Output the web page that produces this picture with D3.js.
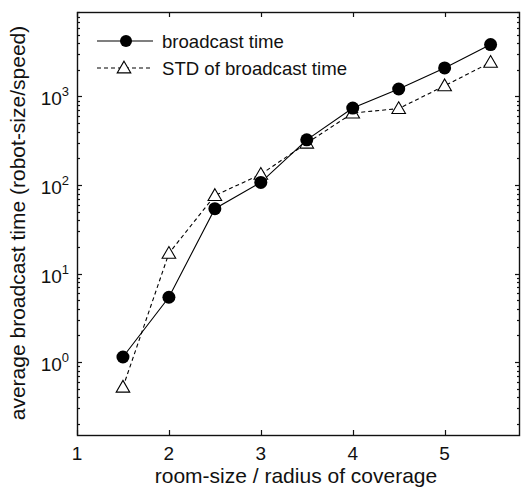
<!DOCTYPE html>
<html>
<head>
<meta charset="utf-8">
<script src="https://cdn.jsdelivr.net/npm/d3@7"></script>
<style>
  body { margin: 0; background: #fff; }
  text { font-family: "Liberation Sans", Arial, sans-serif; fill: #111; }
</style>
</head>
<body>
<div id="chart"></div>
<script>
// data
const xValues = [1.5, 2, 2.5, 3, 3.5, 4, 4.5, 5, 5.5];
const broadcastTime = [1.14, 5.4, 54, 107, 324, 740, 1215, 2100, 3860];
const stdBroadcast = [0.52, 16.9, 76, 132, 297, 650, 730, 1320, 2430];
const xTicks = [1, 2, 3, 4, 5];
const yDecades = [0, 1, 2, 3];

const width = 521, height = 487;
const margin = { left: 77, right: 1, top: 12, bottom: 52 };

const svg = d3.select("#chart").append("svg")
  .attr("width", width).attr("height", height);

const x = d3.scaleLinear().domain([1, 5.82]).range([margin.left, width - margin.right]);
const y = d3.scaleLog().domain([0.15, 9000]).range([height - margin.bottom, margin.top]);

const x0 = margin.left, x1 = width - margin.right;
const y0 = height - margin.bottom, y1 = margin.top;

// minor log ticks
const minor = [];
for (let e = -1; e <= 3; e++) {
  for (let m = 2; m <= 9; m++) {
    const v = m * Math.pow(10, e);
    if (v >= 0.15 && v <= 9000) minor.push(v);
  }
}

const axes = svg.append("g").attr("stroke", "#111").attr("stroke-width", 1.2);

// ticks (inward, on both sides)
xTicks.forEach(t => {
  const px = Math.round(x(t)) + 0.5;
  axes.append("line").attr("x1", px).attr("x2", px).attr("y1", y0).attr("y2", y0 - 5);
  axes.append("line").attr("x1", px).attr("x2", px).attr("y1", y1).attr("y2", y1 + 5);
});
yDecades.forEach(e => {
  const py = Math.round(y(Math.pow(10, e))) + 0.5;
  axes.append("line").attr("x1", x0).attr("x2", x0 + 5).attr("y1", py).attr("y2", py);
  axes.append("line").attr("x1", x1).attr("x2", x1 - 5).attr("y1", py).attr("y2", py);
});
minor.forEach(v => {
  const py = Math.round(y(v)) + 0.5;
  axes.append("line").attr("x1", x0).attr("x2", x0 + 3).attr("y1", py).attr("y2", py);
  axes.append("line").attr("x1", x1).attr("x2", x1 - 3).attr("y1", py).attr("y2", py);
});

// frame
svg.append("rect")
  .attr("x", x0 + 0.5).attr("y", y1 + 0.5)
  .attr("width", x1 - x0 - 1).attr("height", y0 - y1)
  .attr("fill", "none").attr("stroke", "#111").attr("stroke-width", 1.4);

// tick labels
svg.append("g").selectAll("text").data(xTicks).join("text")
  .attr("x", d => x(d)).attr("y", y0 + 25)
  .attr("text-anchor", "middle").attr("font-size", 19)
  .text(d => d);

const yl = svg.append("g").selectAll("text").data(yDecades).join("text")
  .attr("x", x0 - 8).attr("y", d => y(Math.pow(10, d)) + 9)
  .attr("text-anchor", "end").attr("font-size", 19);
yl.append("tspan").text("10");
yl.append("tspan").attr("dy", -9).attr("font-size", 13).text(d => d);

// axis titles
svg.append("text")
  .attr("x", 296).attr("y", 483)
  .attr("text-anchor", "middle").attr("font-size", 21)
  .text("room-size / radius of coverage");
svg.append("text")
  .attr("transform", `translate(25,223) rotate(-90)`)
  .attr("text-anchor", "middle").attr("font-size", 21)
  .text("average broadcast time (robot-size/speed)");

// series
const line = d3.line().x(d => x(d[0])).y(d => y(d[1]));
const s1 = xValues.map((v, i) => [v, broadcastTime[i]]);
const s2 = xValues.map((v, i) => [v, stdBroadcast[i]]);

svg.append("path").datum(s2).attr("d", line)
  .attr("fill", "none").attr("stroke", "#000").attr("stroke-width", 1.1)
  .attr("stroke-dasharray", "4,3");
svg.append("path").datum(s1).attr("d", line)
  .attr("fill", "none").attr("stroke", "#000").attr("stroke-width", 1.1);

const tri = d3.symbol().type(d3.symbolTriangle).size(80);
svg.append("g").selectAll("path").data(s2).join("path")
  .attr("d", tri)
  .attr("transform", d => `translate(${x(d[0])},${y(d[1]) + 1})`)
  .attr("fill", "#fff").attr("stroke", "#000").attr("stroke-width", 1.1);

svg.append("g").selectAll("circle").data(s1).join("circle")
  .attr("cx", d => x(d[0])).attr("cy", d => y(d[1])).attr("r", 6.5)
  .attr("fill", "#000");

// legend
const lg = svg.append("g");
lg.append("line").attr("x1", 97).attr("x2", 153).attr("y1", 41).attr("y2", 41)
  .attr("stroke", "#000").attr("stroke-width", 1.1);
lg.append("circle").attr("cx", 126).attr("cy", 41).attr("r", 6).attr("fill", "#000");
lg.append("text").attr("x", 162).attr("y", 47.5).attr("font-size", 18.6).text("broadcast time");

lg.append("line").attr("x1", 97).attr("x2", 153).attr("y1", 68).attr("y2", 68)
  .attr("stroke", "#000").attr("stroke-width", 1.1).attr("stroke-dasharray", "4,3");
lg.append("path").attr("d", tri).attr("transform", "translate(124,69)")
  .attr("fill", "#fff").attr("stroke", "#000").attr("stroke-width", 1.1);
lg.append("text").attr("x", 162).attr("y", 74.5).attr("font-size", 18.6).text("STD of broadcast time");
</script>
</body>
</html>
